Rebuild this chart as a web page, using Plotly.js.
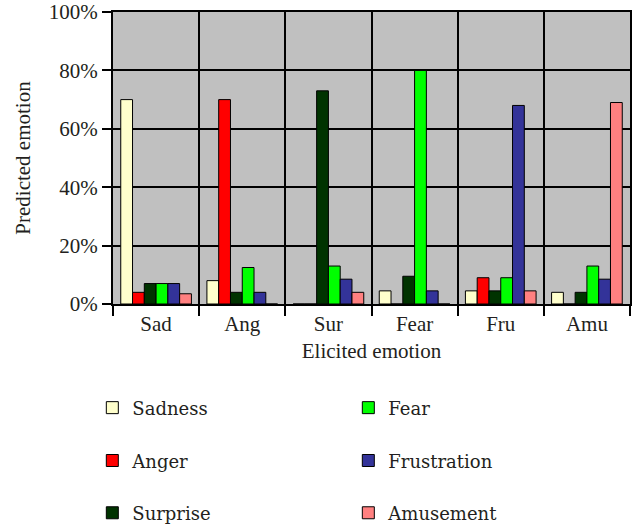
<!DOCTYPE html>
<html>
<head>
<meta charset="utf-8">
<script src="https://cdn.plot.ly/plotly-3.0.1.min.js"></script>
<style>html,body{margin:0;padding:0;background:#fff;}#chart{width:637px;height:526px;}</style>
</head>
<body>
<div id="chart"></div>
<script>
// Elicited emotion categories (x axis)
const categories = ["Sad", "Ang", "Sur", "Fear", "Fru", "Amu"];
// Predicted emotion series (percent)
const sadness     = [70, 8, 0, 4.5, 4.5, 4];
const anger       = [4, 70, 0, 0, 9, 0];
const surprise    = [7, 4, 73, 9.5, 4.5, 4];
const fear        = [7, 12.5, 13, 80, 9, 13];
const frustration = [7, 4, 8.5, 4.5, 68, 8.5];
const amusement   = [3.5, 0, 4, 0, 4.5, 69];
const yTickVals = [0, 20, 40, 60, 80, 100];
const yTickText = ["0%", "20%", "40%", "60%", "80%", "100%"];

const FONT = "Liberation Serif";
const LEGFONT = "DejaVu Serif";
const TXT = "#231f20";
const FS = 21;

const series = [
  {name: "Sadness", y: sadness, color: "#FFFFCC", legend: "legend"},
  {name: "Anger", y: anger, color: "#FF0000", legend: "legend2"},
  {name: "Surprise", y: surprise, color: "#003300", legend: "legend3"},
  {name: "Fear", y: fear, color: "#00FF00", legend: "legend"},
  {name: "Frustration", y: frustration, color: "#333399", legend: "legend2"},
  {name: "Amusement", y: amusement, color: "#FF8080", legend: "legend3"}
];

const traces = series.map(s => ({
  type: "bar",
  name: s.name,
  x: categories,
  y: s.y,
  legend: s.legend,
  marker: {color: s.color, line: {color: "#000", width: 1}},
  hoverinfo: "name+y"
}));

function leg(yPos) {
  return {
    orientation: "h",
    x: -0.04, xanchor: "left",
    y: yPos, yanchor: "middle",
    entrywidth: 211, entrywidthmode: "pixels",
    font: {family: LEGFONT, size: 18},
    bgcolor: "rgba(0,0,0,0)"
  };
}

const layout = {
  width: 637, height: 526,
  margin: {l: 113, r: 7, t: 12, b: 222, autoexpand: false},
  paper_bgcolor: "#fff",
  plot_bgcolor: "#C0C0C0",
  barmode: "group",
  bargap: 0.18,
  bargroupgap: 0,
  showlegend: true,
  font: {family: FONT, size: FS, color: TXT},
  xaxis: {
    type: "category",
    tickson: "boundaries",
    ticks: "outside", ticklen: 10, tickwidth: 1.5, tickcolor: "#000",
    ticklabelstandoff: 0,
    showgrid: true, gridcolor: "#000", gridwidth: 1.5,
    showline: true, linecolor: "#000", linewidth: 2, mirror: true,
    title: {text: "Elicited emotion", font: {size: FS}, standoff: 8},
    fixedrange: true
  },
  yaxis: {
    range: [0, 100],
    tickvals: yTickVals, ticktext: yTickText,
    ticks: "outside", ticklen: 9, tickwidth: 1.5, tickcolor: "#000",
    showgrid: true, gridcolor: "#000", gridwidth: 1.5,
    showline: true, linecolor: "#000", linewidth: 2, mirror: true,
    zeroline: false,
    title: {text: "Predicted emotion", font: {size: FS}, standoff: 12},
    fixedrange: true
  },
  legend: leg(-0.356),
  legend2: leg(-0.537),
  legend3: leg(-0.716)
};

Plotly.newPlot("chart", traces, layout, {displayModeBar: false});
</script>
</body>
</html>
